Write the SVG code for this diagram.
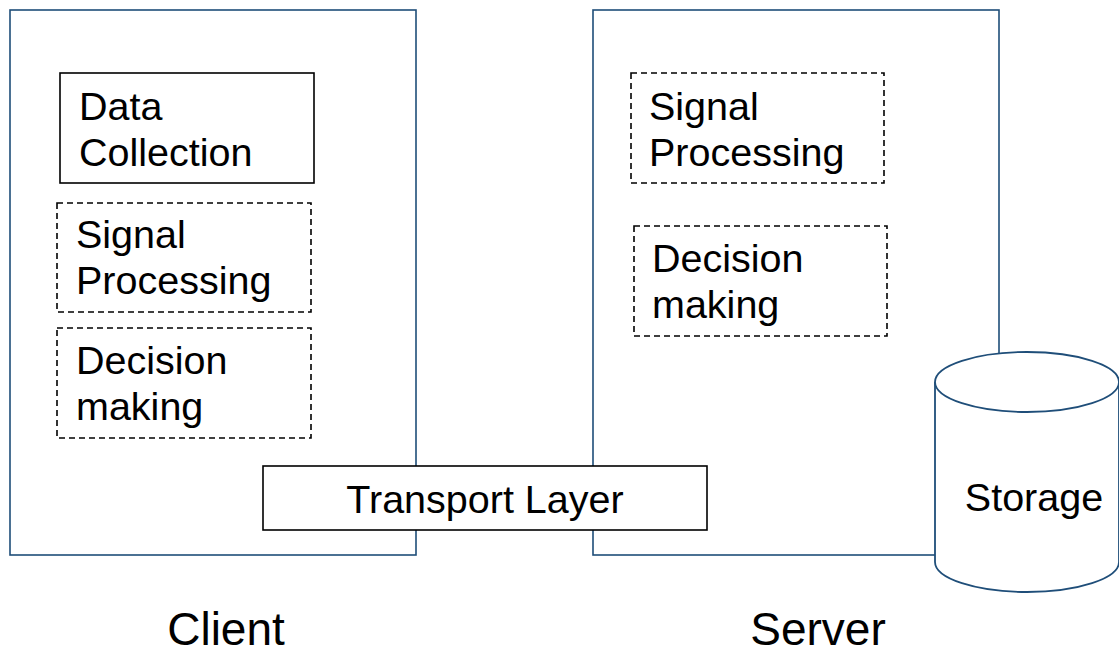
<svg xmlns="http://www.w3.org/2000/svg" width="1119" height="653" viewBox="0 0 1119 653">
  <style>
    .tier { fill: #ffffff; stroke: #1f4e79; stroke-width: 1.6; }
    .solid { fill: #ffffff; stroke: #000000; stroke-width: 1.6; }
    .dashed { fill: #ffffff; stroke: #000000; stroke-width: 1.6; stroke-dasharray: 6 4; }
    .cyl { fill: #ffffff; stroke: #1f4e79; stroke-width: 1.8; }
    text { font-family: "Liberation Sans", Arial, sans-serif; fill: #000000; }
    .lbl { font-size: 39.5px; }
    .big { font-size: 46px; text-anchor: middle; }
  </style>
  <rect width="1119" height="653" fill="#ffffff"/>

  <!-- Client tier -->
  <g id="client">
    <rect class="tier" x="10" y="10" width="406" height="545"/>
    <text class="big" x="226" y="645">Client</text>
  </g>

  <!-- Server tier -->
  <g id="server">
    <rect class="tier" x="593" y="10" width="406" height="545"/>
    <text class="big" x="818" y="645">Server</text>
  </g>

  <g id="client-data-collection">
    <rect class="solid" x="60" y="73" width="254" height="110"/>
    <text class="lbl" x="79" y="120">Data</text>
    <text class="lbl" x="79" y="166">Collection</text>
  </g>

  <g id="client-signal-processing">
    <rect class="dashed" x="57" y="203" width="254" height="109"/>
    <text class="lbl" x="76" y="248">Signal</text>
    <text class="lbl" x="76" y="294">Processing</text>
  </g>

  <g id="client-decision-making">
    <rect class="dashed" x="57" y="328" width="254" height="110"/>
    <text class="lbl" x="76" y="374">Decision</text>
    <text class="lbl" x="76" y="420">making</text>
  </g>

  <g id="server-signal-processing">
    <rect class="dashed" x="631" y="73" width="253" height="110"/>
    <text class="lbl" x="649" y="120">Signal</text>
    <text class="lbl" x="649" y="166">Processing</text>
  </g>

  <g id="server-decision-making">
    <rect class="dashed" x="634" y="226" width="253" height="110"/>
    <text class="lbl" x="652" y="272">Decision</text>
    <text class="lbl" x="652" y="318">making</text>
  </g>

  <g id="transport-layer">
    <rect class="solid" x="263" y="466" width="444" height="64"/>
    <text class="lbl" x="485" y="513" text-anchor="middle">Transport Layer</text>
  </g>

  <g id="storage">
    <path class="cyl" d="M935,382 L935,562 A92,30 0 0 0 1119,562 L1119,382"/>
    <ellipse class="cyl" cx="1027" cy="382" rx="92" ry="30"/>
    <text class="lbl" x="1034" y="511" text-anchor="middle">Storage</text>
  </g>

  <g id="connectors"></g>
</svg>
